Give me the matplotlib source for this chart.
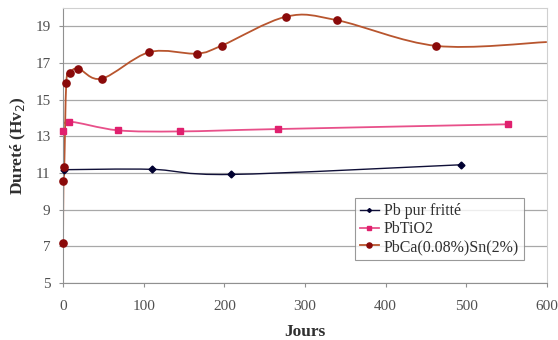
import numpy as np
import matplotlib
matplotlib.use("Agg")
import matplotlib.pyplot as plt
from matplotlib.path import Path
from matplotlib.patches import PathPatch

plt.rcParams['font.family'] = ['Liberation Serif', 'DejaVu Serif']

# data
pb_days = [1, 110, 208, 494]
pb_hv = [11.18, 11.2, 10.92, 11.45]

tio2_days = [0, 7, 68, 145, 267, 552]
tio2_hv = [13.27, 13.8, 13.33, 13.27, 13.4, 13.66]

pbca_days = [0, 0.5, 1.5, 4, 8, 19, 48, 107, 166, 197, 277, 340, 463, 600]
pbca_hv = [7.2, 10.55, 11.33, 15.9, 16.45, 16.7, 16.15, 17.6, 17.52, 17.96, 19.54, 19.34, 17.94, 18.15]

x_ticks = [0, 100, 200, 300, 400, 500, 600]
y_ticks = [5, 7, 9, 11, 13, 15, 17, 19]


def smooth_path(ax, xs, ys):
    # Excel-like smoothed line, built in display space
    pts = ax.transData.transform(np.column_stack([xs, ys]))
    n = len(pts)
    verts = [pts[0]]
    codes = [Path.MOVETO]
    for i in range(n - 1):
        p0 = pts[i - 1] if i > 0 else pts[i]
        p1 = pts[i]
        p2 = pts[i + 1]
        p3 = pts[i + 2] if i + 2 < n else pts[i + 1]
        c1 = p1 + (p2 - p0) / 6.0
        c2 = p2 - (p3 - p1) / 6.0
        verts += [c1, c2, p2]
        codes += [Path.CURVE4] * 3
    return Path(verts, codes)


fig = plt.figure(figsize=(5.58, 3.4), dpi=100)
ax = fig.add_axes([0.113, 0.168, 0.867, 0.808])
ax.set_xlim(0, 600)
ax.set_ylim(5, 20)
ax.set_xticks(x_ticks)
ax.set_yticks(y_ticks)
ax.grid(axis='y', color='#a8a8a8', linewidth=0.9)
ax.set_axisbelow(True)
for side in ['top', 'right']:
    ax.spines[side].set_color('#d0d0d0')
for side in ['left', 'bottom']:
    ax.spines[side].set_color('#909090')
ax.tick_params(colors='#909090', labelcolor='#505050', labelsize=11, length=3)
ax.tick_params(axis='x', pad=9)
ax.tick_params(axis='y', pad=6)

fig.canvas.draw()

series = [
    (pb_days, pb_hv, '#101038', '#000030', 'D', 3.5, 'Pb pur fritté', 1.0),
    (tio2_days, tio2_hv, '#e8508a', '#e0206e', 's', 5, 'PbTiO2', 1.3),
    (pbca_days, pbca_hv, '#b8552e', '#8a0a0a', 'o', 5.2, 'PbCa(0.08%)Sn(2%)', 1.3),
]
for xs, ys, lc, mc, mk, ms, lab, lw in series:
    path = smooth_path(ax, xs, ys)
    patch = PathPatch(path, facecolor='none', edgecolor=lc, linewidth=lw,
                      transform=None, clip_on=True)
    patch.set_clip_box(ax.bbox)
    ax.add_artist(patch)
    mx, my = xs, ys
    if lab.startswith('PbCa'):
        mx, my = xs[:-1], ys[:-1]
    ax.plot(mx, my, linestyle='none', marker=mk, markersize=ms, color=mc,
            clip_on=False, zorder=3)
    ax.plot([], [], color=lc, marker=mk, markersize=ms - 1.5,
            markerfacecolor=mc, markeredgecolor=mc, linewidth=lw, label=lab)

ax.set_xlabel('Jours', fontsize=12.5, fontweight='bold', color='#303030', labelpad=8)
ax.set_ylabel('Dureté (Hv$_2$)', fontsize=12.5, fontweight='bold', color='#303030', labelpad=5)

leg = ax.legend(loc='lower right', bbox_to_anchor=(0.952, 0.084), fontsize=11.5,
                frameon=True, fancybox=False, edgecolor='#808080',
                handlelength=1.2, handletextpad=0.3, borderpad=0.3,
                labelspacing=0.12, borderaxespad=0)
leg.get_frame().set_linewidth(0.8)
for t in leg.get_texts():
    t.set_color('#303030')

fig.savefig('out.png', dpi=100)
